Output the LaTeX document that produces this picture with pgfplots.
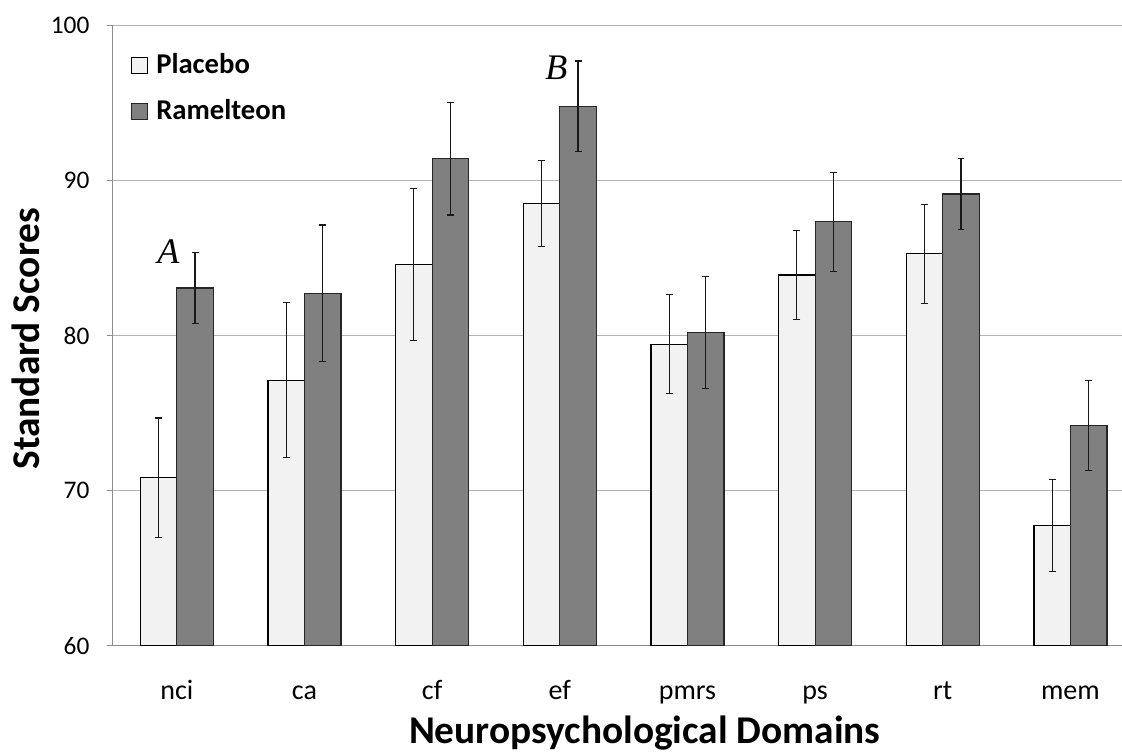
\documentclass[border=0pt]{standalone}
\usepackage{pgfplots}
\pgfplotsset{compat=1.18}
\usepackage{fontspec}
\setmainfont{Carlito}
\newfontfamily\timesfont{Liberation Serif}
\definecolor{placebo}{HTML}{F2F2F2}
\definecolor{ramel}{HTML}{808080}
\definecolor{gridc}{HTML}{B3B3B3}
\definecolor{axisc}{HTML}{8C8C8C}
\begin{document}
\begin{tikzpicture}
\useasboundingbox (-84.75pt,-79.725pt) rectangle (756.75pt,484.275pt);
\begin{axis}[
  scale only axis,
  width=756.75pt, height=465pt,
  xmin=-0.5, xmax=7.404,
  ymin=60, ymax=100,
  ytick={60,70,80,90,100},
  xtick={0,1,2,3,4,5,6,7},
  xticklabels={nci,ca,cf,ef,pmrs,ps,rt,mem},
  axis x line*=bottom, axis y line*=left,
  axis line style={color=axisc, line width=0.75pt, -},
  ymajorgrids, grid style={color=gridc, line width=0.75pt},
  xtick style={draw=none},
  ytick style={color=axisc, line width=0.75pt},
  tick align=outside, major tick length=4.5pt,
  /pgf/number format/assume math mode=true,
  yticklabel style={font=\fontsize{19}{22}\selectfont, inner sep=0pt, xshift=-13pt},
  xticklabel style={font=\fontsize{21}{24}\selectfont, inner sep=0pt, anchor=base, yshift=-35.5pt},
  xlabel={Neuropsychological Domains},
  ylabel={Standard Scores},
  xlabel style={font=\fontsize{29.5}{34}\selectfont\bfseries, at={(axis description cs:0.527,-0.1580)}, anchor=base, inner sep=0pt},
  ylabel style={font=\fontsize{29.5}{34}\selectfont\bfseries, at={(axis description cs:-0.0733,0.495)}, anchor=base, rotate=0, inner sep=0pt},
  ybar, bar width=0.286,
  legend style={draw=none, fill=none, at={(axis description cs:0.01784,0.958)}, anchor=north west, inner sep=0pt,
    font=\fontsize{21.5}{25}\selectfont\bfseries, row sep=14.7pt,
    nodes={inner sep=0pt, text height=16pt, text depth=4pt},
    /tikz/every odd column/.append style={column sep=6pt}},
  legend cell align=left,
  legend image code/.code={\draw[#1, line width=0.75pt] (0pt,-6pt) rectangle (12pt,6pt);},
  error bars/y dir=both, error bars/y explicit,
  error bars/error bar style={color=black!90, line width=0.9pt},
  error bars/error mark options={rotate=90, mark size=2.6pt, color=black!90, line width=0.9pt},
]
\addplot+[bar shift=-0.143, fill=placebo, draw=black, line width=0.9pt] coordinates {
  (0,70.84) +- (0,3.85)
  (1,77.12) +- (0,5.0)
  (2,84.60) +- (0,4.9)
  (3,88.54) +- (0,2.78)
  (4,79.45) +- (0,3.2)
  (5,83.92) +- (0,2.85)
  (6,85.29) +- (0,3.2)
  (7,67.76) +- (0,2.97)
};
\addlegendentry{Placebo}
\addplot+[bar shift=0.143, fill=ramel, draw=black!85, line width=0.9pt] coordinates {
  (0,83.08) +- (0,2.27)
  (1,82.74) +- (0,4.4)
  (2,91.42) +- (0,3.63)
  (3,94.79) +- (0,2.93)
  (4,80.19) +- (0,3.62)
  (5,87.35) +- (0,3.2)
  (6,89.14) +- (0,2.3)
  (7,74.22) +- (0,2.9)
};
\addlegendentry{Ramelteon}
\node[anchor=base, inner sep=0pt, font=\timesfont\itshape\fontsize{27}{30}\selectfont] at (axis cs:-0.066,84.67) {A};
\node[anchor=base, inner sep=0pt, font=\timesfont\itshape\fontsize{27}{30}\selectfont] at (axis cs:2.973,96.52) {B};
\end{axis}
\end{tikzpicture}
\end{document}
